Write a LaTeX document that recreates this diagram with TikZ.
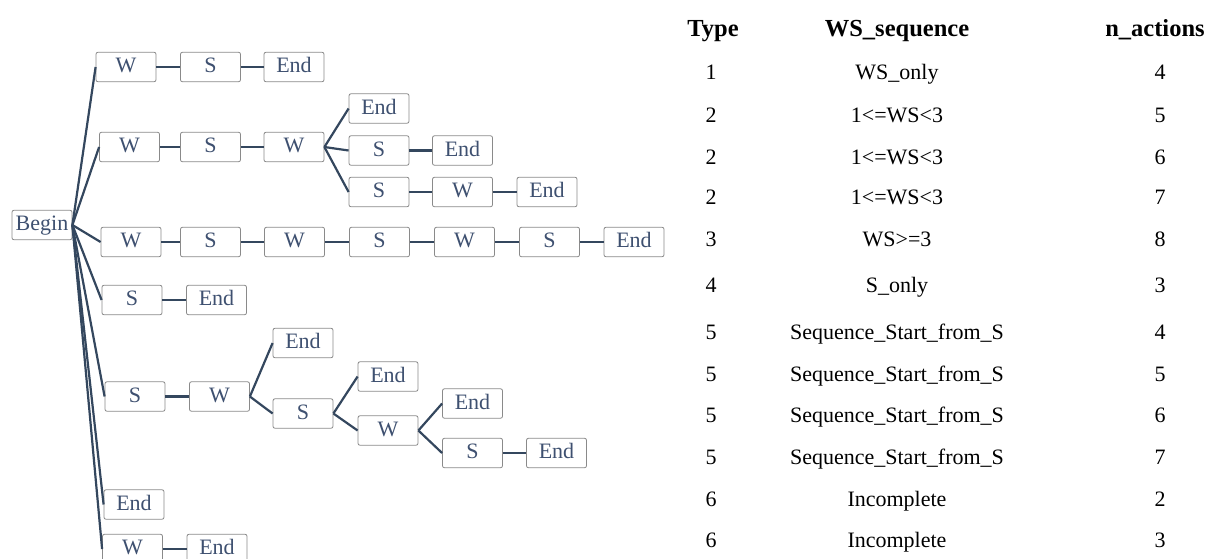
\documentclass[tikz,border=0pt]{standalone}
\usepackage{fontspec}
\setmainfont{Liberation Serif}
\usetikzlibrary{positioning}
\definecolor{linkcol}{HTML}{34475E}
\definecolor{boxline}{HTML}{8A8A8A}
\definecolor{boxtext}{HTML}{3E5070}

\begin{document}
\begin{tikzpicture}[x=1pt, y=-1pt,
    actbox/.style={draw=boxline, line width=0.8pt, rounded corners=2pt, fill=white,
      minimum width=60pt, minimum height=29.5pt, inner sep=0pt, text=boxtext,
      text height=15pt, text depth=4pt, font=\fontsize{22}{26}\selectfont},
    link/.style={draw=linkcol, line width=2.2pt},
    cell/.style={anchor=base, font=\fontsize{22}{26}\selectfont},
    head/.style={cell, font=\fontsize{24.5}{28}\selectfont\bfseries}]

        \useasboundingbox (0, 0) rectangle (1212, 558);

        % tree of action sequences
        \node[actbox] (begin) at (42, 225) {Begin};

        \node[actbox] (w1) at (126, 67) {W};
        \node[actbox] (s1) at (210.5, 67) {S};
        \node[actbox] (e1) at (294, 67) {End};

        \node[actbox] (w2) at (129.5, 147) {W};
        \node[actbox] (s2) at (210.5, 147) {S};
        \node[actbox] (w2b) at (294, 147) {W};
        \node[actbox] (e2a) at (379, 108.5) {End};
        \node[actbox] (s2a) at (379, 150.5) {S};
        \node[actbox] (e2b) at (462.5, 150.5) {End};
        \node[actbox] (s2c) at (379, 192) {S};
        \node[actbox] (w2c) at (462.5, 192) {W};
        \node[actbox] (e2c) at (547, 192) {End};

        \node[actbox] (w3) at (131, 242) {W};
        \node[actbox] (s3) at (210.5, 242) {S};
        \node[actbox] (w3b) at (294.5, 242) {W};
        \node[actbox] (s3b) at (379.5, 242) {S};
        \node[actbox] (w3c) at (464.5, 242) {W};
        \node[actbox] (s3c) at (549.5, 242) {S};
        \node[actbox] (e3) at (634, 242) {End};

        \node[actbox] (s4) at (132, 300) {S};
        \node[actbox] (e4) at (216.5, 300) {End};

        \node[actbox] (s5) at (135, 396.5) {S};
        \node[actbox] (w5) at (219.5, 396.5) {W};
        \node[actbox] (e5a) at (303, 343) {End};
        \node[actbox] (s5b) at (303, 413.5) {S};
        \node[actbox] (e5b) at (388, 376.5) {End};
        \node[actbox] (w5b) at (388, 430.5) {W};
        \node[actbox] (e5c) at (472.5, 403.5) {End};
        \node[actbox] (s5c) at (472.5, 453) {S};
        \node[actbox] (e5d) at (556.5, 453) {End};

        \node[actbox] (e6) at (134, 504.5) {End};

        \node[actbox] (w7) at (132.5, 549) {W};
        \node[actbox] (e7) at (217, 549) {End};

        \foreach \a/\b in {begin/w1, begin/w2, begin/w3, begin/s4, begin/s5, begin/e6, begin/w7,
            w1/s1, s1/e1,
            w2/s2, s2/w2b, w2b/e2a, w2b/s2a, s2a/e2b, w2b/s2c, s2c/w2c, w2c/e2c,
            w3/s3, s3/w3b, w3b/s3b, s3b/w3c, w3c/s3c, s3c/e3,
            s4/e4,
            s5/w5, w5/e5a, w5/s5b, s5b/e5b, s5b/w5b, w5b/e5c, w5b/s5c, s5c/e5d,
            w7/e7}
          \draw[link] (\a.east) -- (\b.west);

        % table
        \node[head] (htype) at (713, 36) {Type};
        \node[head] (hseq) at (897, 36) {WS\_sequence};
        \node[head] (hnact) at (1155, 36) {n\_actions};

        \foreach \ty/\ws/\na/\yy [count=\r] in {
            1/WS\_only/4/79, 2/1<=WS<3/5/122, 2/1<=WS<3/6/164, 2/1<=WS<3/7/204,
            3/WS>=3/8/246, 4/S\_only/3/292,
            5/Sequence\_Start\_from\_S/4/339, 5/Sequence\_Start\_from\_S/5/381,
            5/Sequence\_Start\_from\_S/6/422, 5/Sequence\_Start\_from\_S/7/464,
            6/Incomplete/2/506, 6/Incomplete/3/547} {
          \node[cell] (ty\r) at (711, \yy) {\ty};
          \node[cell] (ws\r) at (897, \yy) {\ws};
          \node[cell] (na\r) at (1160, \yy) {\na};
        }
      \end{tikzpicture}
\end{document}
